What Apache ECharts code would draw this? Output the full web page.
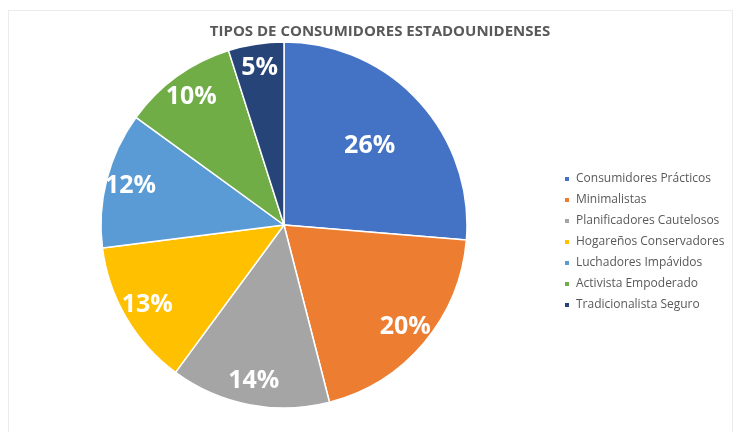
<!DOCTYPE html>
<html>
<head>
<meta charset="utf-8">
<script src="https://cdn.jsdelivr.net/npm/echarts@6/dist/echarts.min.js"></script>
<style>
html,body{margin:0;padding:0;background:#fff;}
#frame{position:absolute;left:8px;top:10px;width:725px;height:440px;border:1px solid #ebebeb;box-sizing:border-box;}
#chart{position:absolute;left:0;top:0;width:737px;height:432px;}
</style>
</head>
<body>
<div id="frame"></div>
<div id="chart"></div>
<script>
var titleText = 'TIPOS DE CONSUMIDORES ESTADOUNIDENSES';
var categories = ['Consumidores Prácticos','Minimalistas','Planificadores Cautelosos','Hogareños Conservadores','Luchadores Impávidos','Activista Empoderado','Tradicionalista Seguro'];
var values = [26.3, 19.7, 14.1, 12.9, 12.0, 10.1, 4.9];
var colors = ['#4472C4','#ED7D31','#A5A5A5','#FFC000','#5B9BD5','#70AD47','#264478'];

var R = 183;
var cx = 284, cy = 225;
var labelFont = {color:'#fff', fontSize:25, fontWeight:'bold', fontFamily:'Open Sans'};
function pctFmt(p){ return Math.round(p.percent) + '%'; }

var mainData = categories.map(function(c,i){ return {name:c, value:values[i], itemStyle:{color:colors[i]}}; });
var outerLabelData = categories.map(function(c,i){ return {name:c, value:values[i], label:{show:i!==0}}; });
var innerLabelData = categories.map(function(c,i){ return {name:c, value:values[i], label:{show:i===0}}; });

var chart = echarts.init(document.getElementById('chart'), null, {renderer:'canvas'});
chart.setOption({
  backgroundColor:'transparent',
  animation:false,
  title:{text:titleText, left:375, top:19, textAlign:'center',
    textStyle:{fontSize:15, fontWeight:'bold', color:'#595959', fontFamily:'Open Sans'}},
  legend:{orient:'vertical', left:558, top:167, data:categories, icon:'rect',
    itemWidth:6, itemHeight:6, itemGap:7,
    textStyle:{fontSize:12, color:'#595959', fontFamily:'Open Sans', lineHeight:14, padding:[0,0,0,1]}},
  series:[
    {type:'pie', center:[cx,cy], radius:[0,R], startAngle:90, clockwise:true,
     silent:true, data:mainData, label:{show:false}, labelLine:{show:false},
     itemStyle:{borderColor:'#fff', borderWidth:1.5}},
    {type:'pie', center:[cx,cy], radius:[R*0.70,R], startAngle:90, clockwise:true,
     silent:true, legendHoverLink:false, data:outerLabelData,
     itemStyle:{color:'rgba(0,0,0,0)'},
     label:Object.assign({position:'inside', formatter:pctFmt}, labelFont), labelLine:{show:false}},
    {type:'pie', center:[cx,cy], radius:[R*0.42,R*0.82], startAngle:90, clockwise:true,
     silent:true, legendHoverLink:false, data:innerLabelData,
     itemStyle:{color:'rgba(0,0,0,0)'},
     label:Object.assign({position:'inside', formatter:pctFmt}, labelFont), labelLine:{show:false}}
  ]
});
</script>
</body>
</html>
